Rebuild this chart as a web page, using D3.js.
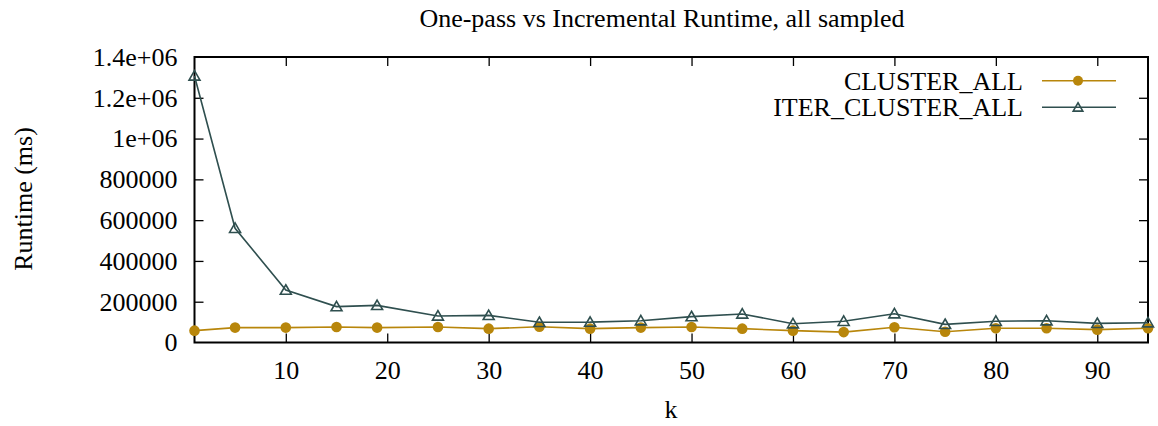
<!DOCTYPE html>
<html>
<head>
<meta charset="utf-8">
<script src="https://cdn.jsdelivr.net/npm/d3@7"></script>
<style>
  html, body { margin: 0; padding: 0; background: #fff; }
  svg { display: block; }
  text { font-family: "Liberation Serif", "Times New Roman", Times, serif; fill: #000; }
</style>
</head>
<body>
<svg id="chart" width="1158" height="426"></svg>
<script>
const kValues = [1, 5, 10, 15, 19, 25, 30, 35, 40, 45, 50, 55, 60, 65, 70, 75, 80, 85, 90, 95];
const clusterAll = [58000, 73000, 73000, 76000, 73000, 76000, 68000, 77000, 68000, 73000, 76000, 68000, 58000, 51000, 75000, 53000, 70000, 70000, 63000, 70000];
const iterClusterAll = [1307000, 560000, 257000, 176000, 182000, 130000, 133000, 99000, 100000, 107000, 127000, 140000, 92000, 104000, 141000, 89000, 104000, 107000, 94000, 97000];
const xTicks = [10, 20, 30, 40, 50, 60, 70, 80, 90];
const yTicks = [0, 200000, 400000, 600000, 800000, 1000000, 1200000, 1400000];
const yTickLabels = ["0", "200000", "400000", "600000", "800000", "1e+06", "1.2e+06", "1.4e+06"];
const seriesNames = ["CLUSTER_ALL", "ITER_CLUSTER_ALL"];
const seriesColors = ["#b8860b", "#2f4f4f"];
const titleText = "One-pass vs Incremental Runtime, all sampled";
const xLabel = "k";
const yLabel = "Runtime (ms)";

const svg = d3.select("#chart");
const L = 194.5, R = 1148, T = 57, B = 342.5;
const x = d3.scaleLinear().domain([1, 95]).range([L, R]);
const y = d3.scaleLinear().domain([0, 1400000]).range([B, T]);
const tickLen = 9;
const fs = 26;

// title
svg.append("text").attr("x", 662).attr("y", 27).attr("text-anchor", "middle")
  .attr("font-size", 26).text(titleText);

// axes labels
svg.append("text").attr("x", 671).attr("y", 418).attr("text-anchor", "middle")
  .attr("font-size", fs).text(xLabel);
svg.append("text").attr("transform", "translate(32,199) rotate(-90)").attr("text-anchor", "middle")
  .attr("font-size", fs).text(yLabel);

// ticks via axes (inward)
const gx = svg.append("g").attr("transform", `translate(0,${B})`)
  .call(d3.axisBottom(x).tickValues(xTicks).tickSizeInner(-tickLen).tickSizeOuter(0).tickPadding(tickLen + 9));
const gxTop = svg.append("g").attr("transform", `translate(0,${T})`)
  .call(d3.axisTop(x).tickValues(xTicks).tickSizeInner(-tickLen).tickSizeOuter(0).tickFormat(""));
const gy = svg.append("g").attr("transform", `translate(${L},0)`)
  .call(d3.axisLeft(y).tickValues(yTicks).tickSizeInner(-tickLen).tickSizeOuter(0).tickPadding(tickLen + 8)
    .tickFormat((d, i) => yTickLabels[i]));
const gyR = svg.append("g").attr("transform", `translate(${R},0)`)
  .call(d3.axisRight(y).tickValues(yTicks).tickSizeInner(-tickLen).tickSizeOuter(0).tickFormat(""));
[gx, gxTop, gy, gyR].forEach(g => {
  g.select(".domain").remove();
  g.attr("font-family", null).attr("font-size", null);
  g.selectAll("line").attr("stroke", "#000").attr("stroke-width", 1.3);
  g.selectAll("text").attr("font-size", fs).attr("fill", "#000");
});
gx.selectAll("text").attr("dy", "0.71em");
gy.selectAll(".tick line").filter(d => d === 0 || d === 1400000).remove();
gyR.selectAll(".tick line").filter(d => d === 0 || d === 1400000).remove();

// frame
svg.append("rect").attr("x", L).attr("y", T).attr("width", R - L).attr("height", B - T)
  .attr("fill", "none").attr("stroke", "#000").attr("stroke-width", 2);

const series = [clusterAll, iterClusterAll];
const line = d3.line().x((d, i) => x(kValues[i])).y(d => y(d));
const tri = d3.symbol().type(d3.symbolTriangle).size(52);

series.forEach((vals, si) => {
  const g = svg.append("g");
  g.append("path").datum(vals).attr("d", line).attr("fill", "none")
    .attr("stroke", seriesColors[si]).attr("stroke-width", 1.6);
  if (si === 0) {
    g.selectAll("circle").data(vals).join("circle")
      .attr("cx", (d, i) => x(kValues[i])).attr("cy", d => y(d)).attr("r", 5.3)
      .attr("fill", seriesColors[si]);
  } else {
    g.selectAll("path.m").data(vals).join("path").attr("class", "m")
      .attr("transform", (d, i) => `translate(${x(kValues[i])},${y(d) + 1})`)
      .attr("d", tri).attr("fill", "none").attr("stroke", seriesColors[si]).attr("stroke-width", 1.6);
  }
});

// legend
const legY = [80.7, 107.3];
seriesNames.forEach((name, si) => {
  const g = svg.append("g");
  g.append("text").attr("x", 1023).attr("y", legY[si]).attr("dy", "0.35em").attr("text-anchor", "end")
    .attr("font-size", fs).text(name);
  g.append("line").attr("x1", 1042).attr("x2", 1116).attr("y1", legY[si]).attr("y2", legY[si])
    .attr("stroke", seriesColors[si]).attr("stroke-width", 1.6);
  if (si === 0) {
    g.append("circle").attr("cx", 1078).attr("cy", legY[si]).attr("r", 5)
      .attr("fill", seriesColors[si]);
  } else {
    g.append("path").attr("transform", `translate(1078,${legY[si] + 1})`)
      .attr("d", d3.symbol().type(d3.symbolTriangle).size(40)).attr("fill", "none")
      .attr("stroke", seriesColors[si]).attr("stroke-width", 1.6);
  }
});
</script>
</body>
</html>
